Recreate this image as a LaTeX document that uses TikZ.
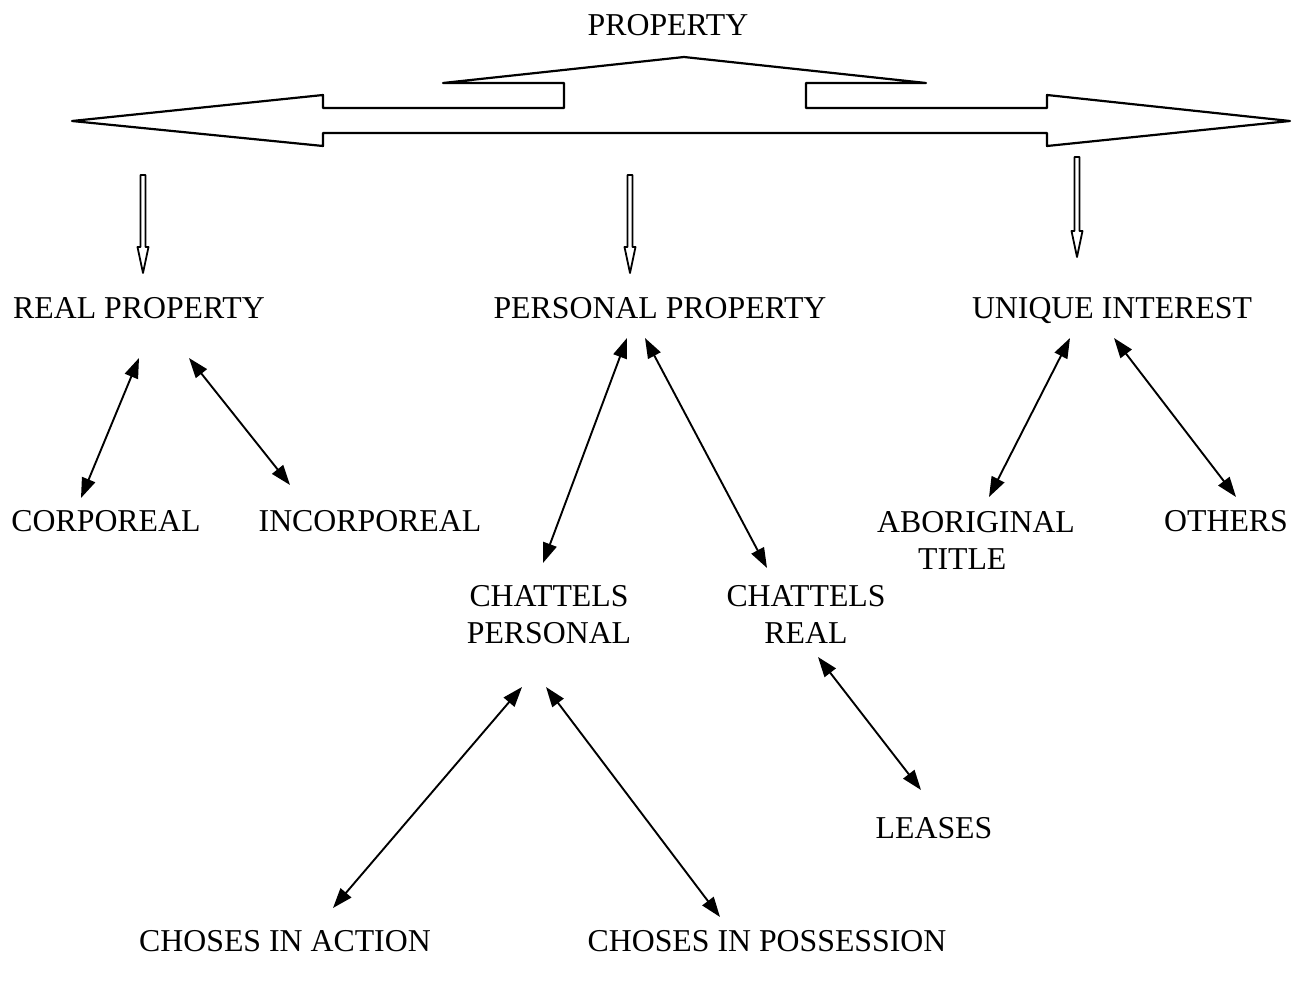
\documentclass[tikz,border=0pt]{standalone}
\usepackage{fontspec}
\setmainfont{Liberation Serif}
\usetikzlibrary{arrows.meta}
\tikzset{>={Triangle[length=20pt,width=14pt]}}
\tikzset{lbl/.style={inner sep=0pt, text depth=0pt, align=center, font=\fontsize{31.8}{37}\selectfont}}
\tikzset{link/.style={<->, line width=1.9pt}}
\newcommand{\hollowdown}[3]{%
  \draw[line width=1.8pt, line join=round] (#1-2.5,#2) -- (#1+2.5,#2) -- (#1+2.5,#3-26) -- (#1+5.5,#3-26)
     -- (#1,#3) -- (#1-5.5,#3-26) -- (#1-2.5,#3-26) -- cycle;}

\begin{document}
\begin{tikzpicture}[x=1pt, y=-1pt]
\useasboundingbox (0,0) rectangle (1295,984);
    % big double arrow with the branch on top
    \coordinate (Lt) at (72,121);
    \coordinate (Rt) at (1290,121);
    \coordinate (Ap) at (684,57);
    \draw[line width=2.2pt, line join=round] (Lt) -- (323,95) -- (323,108) -- (564,108) -- (564,83)
        -- (443,83) -- (Ap) -- (926,83) -- (806,83) -- (806,108) -- (1047,108) -- (1047,95)
        -- (Rt) -- (1047,146) -- (1047,133) -- (323,133) -- (323,146) -- cycle;

    \hollowdown{143}{175}{273}
    \hollowdown{630}{175}{273}
    \hollowdown{1077}{157}{257}

    \node[lbl] (prop) at (668,25) {PROPERTY};
    \node[lbl] (real) at (139,308) {REAL PROPERTY};
    \node[lbl] (pers) at (660,308) {PERSONAL PROPERTY};
    \node[lbl] (uniq) at (1112,308) {UNIQUE INTEREST};
    \node[lbl] (corp) at (106,521) {CORPOREAL};
    \node[lbl] (incorp) at (370,521) {INCORPOREAL};
    \node[lbl, align=left] (abor) at (976,540) {ABORIGINAL\\\hspace*{41pt}TITLE};
    \node[lbl] (others) at (1226,521) {OTHERS};
    \node[lbl] (chatp) at (549,614) {CHATTELS\\PERSONAL};
    \node[lbl] (chatr) at (806,614) {CHATTELS\\REAL};
    \node[lbl] (leases) at (934,828) {LEASES};
    \node[lbl] (action) at (285,941) {CHOSES IN ACTION};
    \node[lbl] (poss) at (767,941) {CHOSES IN POSSESSION};
% % % % % % % % % % % % % % % % % % %
    \draw[link] ([shift={(0,50)}]real.center) -- ([shift={(-25,-23)}]corp.center);
    \draw[link] ([shift={(50,50)}]real.center) -- ([shift={(-80,-36)}]incorp.center);
    \draw[link] ([shift={(-33,30)}]pers.center) -- ([shift={(-6,-51)}]chatp.center);
    \draw[link] ([shift={(-15,30)}]pers.center) -- ([shift={(-39,-46)}]chatr.center);
    \draw[link] ([shift={(-42,30)}]uniq.center) -- ([shift={(13,-43)}]abor.center);
    \draw[link] ([shift={(2,30)}]uniq.center) -- ([shift={(10,-24)}]others.center);
    \draw[link] ([shift={(-27,73)}]chatp.center) -- ([shift={(48,-33)}]action.center);
    \draw[link] ([shift={(-3,73)}]chatp.center) -- ([shift={(-47,-24)}]poss.center);
    \draw[link] ([shift={(12,43)}]chatr.center) -- ([shift={(-13,-38)}]leases.center);
\end{tikzpicture}
\end{document}
